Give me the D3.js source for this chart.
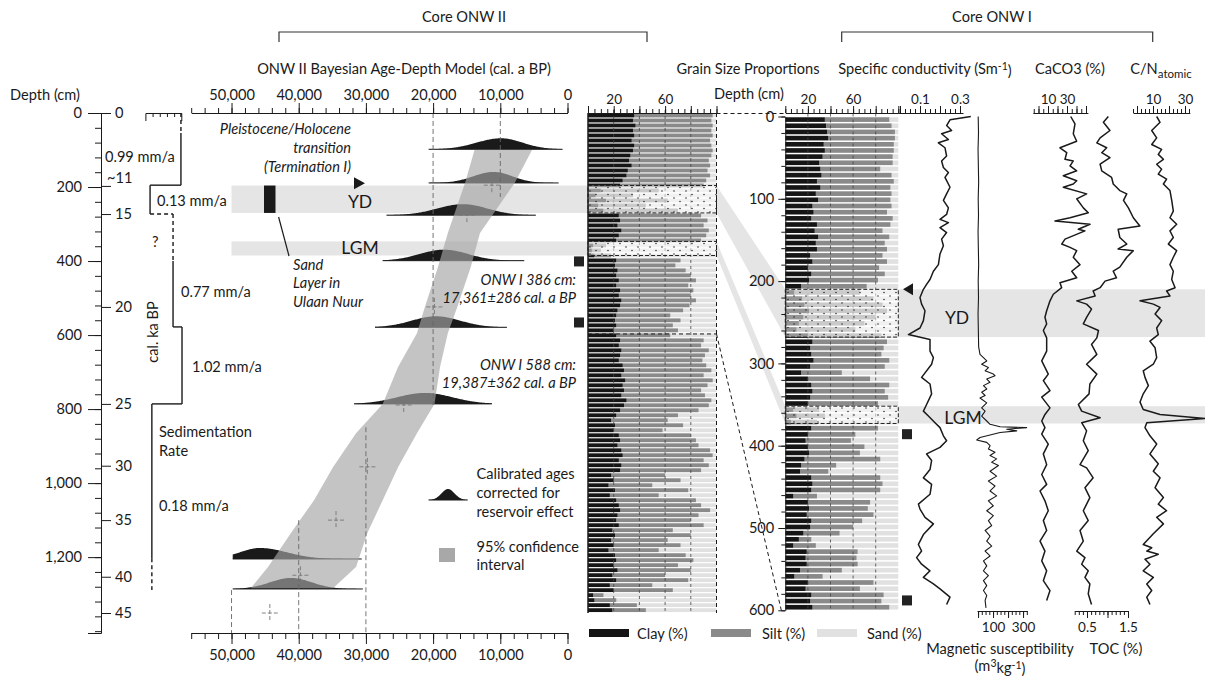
<!DOCTYPE html>
<html>
<head>
<meta charset="utf-8">
<title>ONW cores</title>
<script src="https://cdn.jsdelivr.net/npm/d3@7/dist/d3.min.js"></script>
<style>
  body{margin:0;background:#fff;}
  svg{display:block;font-family:Lato,"Open Sans",sans-serif;}
  .axis text{font-family:Lato,"Open Sans",sans-serif;fill:#1a1a1a;}
  .axis path,.axis line{stroke:#1a1a1a;}
</style>
</head>
<body>
<svg id="fig" width="1205" height="676"></svg>
<script>
// ---------- data ----------
const ageTicks=[0,10000,20000,30000,40000,50000];
const depthTicks=[0,200,400,600,800,1000,1200];
const kaLabels=['0','~11','15','20','25','30','35','40','45'];
const kaDepths=[0,197,273,524,786,953,1100,1253,1351];

const sedRates=[0.99,0.13,0.77,1.02,0.18];
const sedTop=[0,195,273,578,786];
const sedBase=[195,273,578,786,1289];
const sedSolidTop=[54,195,400,578,786];
const sedSolidBase=[195,273,578,786,1203];

// 95% confidence envelope of the age-depth model (ONW II)
const bandDepth=[100,189,324,416,524,595,686,786,865,957,1046,1135,1227,1284];
const bandOld=[13840,15250,17810,19270,21230,22400,25220,27500,31470,34900,37720,41150,44570,47140];
const bandYoung=[5280,7860,13020,14400,16400,17810,18970,19800,22400,25220,27500,29780,31470,34900];

// calibrated age distributions
const distDepth=[98,189,276,399,579,786,1205,1286];
const distMode=[9900,11000,15550,18380,19570,21230,45760,41160];
const distOld=[20670,20670,26930,27500,28650,31770,49820,49820];
const distYoung=[740,1320,4720,6430,9000,11260,30620,30460];
const distSdOld=[3600,3000,3800,3600,3600,4100,3000,3100];
const distSdYoung=[3200,2800,3600,3600,3600,4100,4000,3100];

// modelled ages (crosses)
const crossAges=[11260,14970,19800,24370,29780,34450,39750,44300];
const crossDepths=[195,276,524,789,956,1100,1249,1351];

// dashed age reference lines
const refAges=[10000,20000,30000,40000,50000];
const refFrom=[0,0,849,1100,1289];
const refTo=[227,789,1405,1405,1405];

// grain size, ONW II (one sample every 13.5 cm)
const onw2Clay=[36,35,37,35,36,34,36,35,33,32,34,31,30,27,25,10,6,14,8,12,
  24,25,23,26,24,22,4,3,5,22,21,23,22,24,22,25,24,26,25,23,
  22,21,22,20,22,25,24,26,25,24,27,28,26,29,27,28,26,30,28,25,
  22,18,21,20,24,25,23,26,27,24,26,25,18,20,16,21,17,22,24,25,
  23,22,24,19,21,18,20,16,21,22,20,23,19,22,17,20,4,5,17,19];
const onw2Silt=[61,61,60,61,61,61,60,62,63,62,61,62,65,65,65,45,29,48,37,58,
  64,68,67,68,68,66,10,7,13,50,47,53,58,60,56,57,56,58,54,51,
  42,51,44,50,42,65,64,68,66,65,65,68,64,68,66,60,65,66,66,61,
  48,44,53,38,56,59,63,69,70,66,68,63,42,52,34,57,38,62,64,70,
  63,58,66,47,59,44,52,39,55,60,50,57,41,56,33,46,8,17,21,26];
// grain size, ONW I (one sample every 7.5 cm)
const onw1Clay=[35,36,37,38,34,35,33,30,31,32,28,31,27,29,24,25,23,28,26,29,
  27,28,22,24,20,23,21,14,8,15,17,21,16,12,10,20,24,22,23,25,
  22,14,20,23,24,22,20,7,10,5,23,20,18,20,21,17,14,13,23,24,
  23,7,20,21,19,23,22,16,12,7,19,18,19,13,8,20,18,23,22,24];
const onw1Silt=[57,58,60,59,62,61,62,65,53,62,68,62,67,64,70,65,72,65,60,63,
  61,62,64,66,63,65,61,58,58,63,69,69,64,58,52,65,66,65,62,67,
  66,36,55,69,64,69,62,23,25,23,59,42,40,50,45,67,31,25,61,62,
  61,21,55,52,59,45,38,32,11,20,45,45,45,37,25,58,48,64,63,68];

// ONW I proxies: [depth cm, value]
const conductivity=[[0,0.354],[4,0.25],[11,0.233],[17,0.258],[21,0.208],[28,0.242],[32,0.192],[38,0.225],[48,0.233],[54,0.208],
  [62,0.217],[68,0.242],[74,0.225],[86,0.25],[94,0.233],[102,0.217],[111,0.242],[119,0.233],[125,0.2],[129,0.242],
  [135,0.2],[141,0.233],[149,0.208],[157,0.217],[167,0.2],[180,0.192],[188,0.167],[198,0.15],[204,0.133],[210,0.117],
  [220,0.1],[228,0.108],[236,0.125],[248,0.117],[257,0.1],[265,0.042],[271,0.15],[285,0.15],[293,0.167],[301,0.158],
  [317,0.108],[325,0.15],[337,0.158],[350,0.133],[358,0.117],[364,0.142],[372,0.175],[378,0.2],[388,0.217],[394,0.233],
  [402,0.2],[410,0.133],[418,0.158],[429,0.15],[439,0.117],[447,0.158],[459,0.15],[471,0.092],[477,0.1],[487,0.125],
  [495,0.167],[508,0.117],[520,0.092],[528,0.108],[536,0.083],[544,0.108],[552,0.15],[560,0.117],[568,0.167],[574,0.2],
  [584,0.25],[593,0.233]];
const magSus=[[0,1],[20,3],[40,0],[60,2],[80,4],[100,1],[120,3],[140,0],[160,2],[180,4],[200,1],[220,3],[240,0],[260,2],[280,4],
  [289,13],[293,36],[297,58],[301,24],[305,69],[309,47],[313,102],[315,113],[319,58],[323,80],[327,36],[331,58],[335,24],[339,47],
  [342,13],[348,58],[354,24],[358,47],[364,24],[370,58],[374,80],[377,147],[378,324],[380,191],[382,258],[384,147],[387,80],
  [390,13],[393,-9],[396,58],[400,80],[404,69],[408,113],[412,80],[416,124],[420,91],[424,136],[431,80],[437,124],[443,69],
  [449,113],[455,80],[461,124],[467,69],[473,102],[479,58],[485,102],[491,69],[497,91],[503,47],[510,80],[516,58],[522,91],
  [528,47],[534,80],[540,36],[546,58],[552,36],[558,69],[564,36],[570,58],[576,36],[582,58],[588,47],[597,53]];
const caco3=[[0,33.9],[9,38.4],[21,36.6],[30,40.2],[38,22.6],[44,29.7],[52,27.9],[54,36.6],[60,33.2],[66,40.2],
  [72,26.1],[78,40.2],[82,36.6],[86,26.1],[94,50.7],[100,40.2],[111,47.2],[117,52.4],[123,33.2],[127,17.4],
  [131,54.2],[137,41.9],[139,48.9],[149,27.9],[155,24.4],[159,33.2],[163,40.2],[171,36.6],[180,43.7],[188,35],
  [196,40.2],[202,22.6],[208,24.4],[216,15.6],[224,12.1],[236,8.6],[244,6.8],[252,8.6],[260,5.1],[269,8.6],
  [285,8.6],[297,3.4],[313,10.3],[321,5.1],[333,12.1],[341,3.4],[354,12.1],[362,6.8],[370,3.4],[378,6.8],
  [386,3.4],[398,10.3],[410,5.1],[423,8.6],[435,3.4],[447,8.6],[455,1.6],[467,6.8],[479,10.3],[491,5.1],
  [503,8.6],[516,1.6],[528,6.8],[540,3.4],[552,8.6],[564,5.1],[576,12.1],[588,8.6]];
const toc=[[0,1.02],[7,0.9],[17,1.06],[26,0.82],[32,0.74],[38,0.98],[44,0.86],[50,1.06],[58,0.82],[66,0.86],
  [74,1.1],[82,1.14],[90,1.3],[94,1.47],[102,1.39],[111,1.51],[123,1.63],[133,1.79],[137,1.26],[147,1.3],
  [155,1.47],[161,1.26],[163,1.63],[171,1.47],[183,1.3],[188,1.14],[196,1.22],[200,0.94],[208,0.82],[212,0.65],
  [218,0.7],[224,0.25],[228,0.49],[234,0.61],[244,0.49],[252,0.41],[260,0.78],[269,0.74],[277,0.61],[289,0.74],
  [301,0.49],[313,0.74],[325,0.57],[337,0.55],[350,0.29],[358,0.37],[366,0.82],[372,0.37],[382,0.49],[394,0.41],
  [406,0.53],[423,0.33],[427,0.49],[439,0.65],[451,0.45],[463,0.57],[479,0.41],[491,0.53],[503,0.33],[516,0.41],
  [528,0.25],[536,0.45],[544,0.37],[552,0.53],[560,0.45],[568,0.57],[580,0.53],[593,0.61]];
const cnRatio=[[0,12.3],[7,14.4],[17,9.2],[26,12.3],[34,9.2],[40,15.4],[46,13.3],[52,16.5],[58,12.3],[64,15.4],
  [70,13.3],[76,18.5],[82,16.5],[90,20.6],[102,21.7],[115,22.7],[123,20.6],[131,24.8],[139,20.6],[147,22.7],
  [155,19.6],[163,24.8],[171,22.7],[180,20.6],[188,22.7],[198,21.7],[208,23.8],[212,18.5],[218,20.6],[224,1.9],
  [228,10.2],[232,14.4],[240,11.3],[248,15.4],[257,12.3],[265,13.3],[273,8.1],[281,11.3],[293,12.3],[301,10.2],
  [309,3.9],[317,5],[327,7.1],[337,3.9],[347,1.9],[356,3.9],[362,14.4],[367,42.5],[372,6.1],[378,5],
  [388,8.1],[398,12.3],[410,8.1],[422,13.3],[431,10.2],[439,14.4],[451,11.3],[463,16.5],[471,13.3],[479,18.5],
  [487,12.3],[495,16.5],[507,10.2],[520,3.9],[524,9.2],[528,6.1],[532,13.3],[538,5],[544,8.1],[552,3.9],
  [560,10.2],[568,6.1],[576,9.2],[584,6.1],[593,8.1]];

// event intervals [top, base] in cm
const ydII=[196,270], lgmII=[347,385];
const ydI=[210,268], lgmI=[352,373];
const datedII=[401,566], datedI=[386,588];

// ---------- scales ----------
const svg=d3.select('#fig');
const INK='#1a1a1a', BANDC='#e5e5e5', FS=14.6, FSS=13.5;
const xAge=d3.scaleLinear().domain([0,56000]).range([567.5,191.2]);
const yII=d3.scaleLinear().domain([0,1405]).range([113,633]);
const yI=d3.scaleLinear().domain([0,600]).range([116.5,610.3]);
const xSed=d3.scaleLinear().domain([0,1]).range([145.4,181.3]);
const xG2=d3.scaleLinear().domain([0,100]).range([588,716.5]);
const xG1=d3.scaleLinear().domain([0,100]).range([785.3,898.3]);
const xCond=d3.scaleLinear().domain([-0.01,0.315]).range([898,963]);
const xMag=d3.scaleLinear().domain([-7,327]).range([977,1027.1]);
const xCa=d3.scaleLinear().domain([-6,52]).range([1032.8,1087.9]);
const xToc=d3.scaleLinear().domain([0.2,1.5]).range([1074.7,1128]);
const xCN=d3.scaleLinear().domain([-2.5,33]).range([1133,1189.8]);

function txt(x,y,s,o={}){
  return svg.append('text').attr('x',x).attr('y',y).attr('dy','0.35em')
    .attr('text-anchor',o.a||'start').attr('font-size',o.fs||FS)
    .attr('font-style',o.it?'italic':null).attr('fill',INK).text(s);
}
function comb(scale,y,orient,minor,major,labels,o={}){
  const mk=orient==='top'?d3.axisTop:d3.axisBottom;
  svg.append('g').attr('class','axis').attr('transform',`translate(0,${y})`)
    .call(mk(scale).tickValues(minor).tickSize(o.mn||4).tickSizeOuter(0).tickFormat(''));
  const b=svg.append('g').attr('class','axis').attr('transform',`translate(0,${y})`)
    .call(mk(scale).tickValues(major).tickSize(o.mj||8).tickSizeOuter(0).tickPadding(o.pad||2)
      .tickFormat(d=>labels.includes(d)?(o.fmt?o.fmt(d):d):''));
  b.select('.domain').remove();
  b.selectAll('text').attr('font-size',o.fs||FSS);
}

// ---------- light event bands & connectors ----------
const gBg=svg.append('g').attr('fill',BANDC);
[[ydII,ydI],[lgmII,lgmI]].forEach(([a,b])=>{
  gBg.append('rect').attr('x',xAge(50000)).attr('y',yII(a[0])).attr('width',xG2(0)-xAge(50000)).attr('height',yII(a[1])-yII(a[0]));
  gBg.append('path').attr('d',d3.line()([[xG2(100),yII(a[0])],[xG1(0),yI(b[0])],[xG1(0),yI(b[1])],[xG2(100),yII(a[1])]]));
  gBg.append('rect').attr('x',xG1(100)).attr('y',yI(b[0])).attr('width',1205-xG1(100)).attr('height',yI(b[1])-yI(b[0]));
});

// ---------- age-depth model ----------
const gDist=svg.append('g');
distDepth.forEach((dep,i)=>{
  const y0=yII(dep), lo=distYoung[i], hi=distOld[i];
  const ages=d3.range(lo,hi,(hi-lo)/150).concat([hi]);
  const h=a=>{const s=a>distMode[i]?distSdOld[i]:distSdYoung[i];return 11*Math.exp(-0.5*((a-distMode[i])/s)**2);};
  gDist.append('path').datum(ages).attr('fill',INK)
    .attr('d',d3.area().x(a=>xAge(a)).y0(y0).y1(a=>y0-h(a)));
  gDist.append('line').attr('x1',xAge(lo)).attr('x2',xAge(hi)).attr('y1',y0).attr('y2',y0).attr('stroke',INK).attr('stroke-width',1);
});
const bandPts=bandDepth.map((d,i)=>[xAge(bandOld[i]),yII(d)])
  .concat(bandDepth.map((d,i)=>[xAge(bandYoung[i]),yII(d)]).reverse());
svg.append('path').attr('d',d3.line()(bandPts)+'Z').attr('fill','#a6a6a6').attr('opacity',0.66);

refAges.forEach((a,i)=>{
  svg.append('line').attr('x1',xAge(a)).attr('x2',xAge(a)).attr('y1',yII(refFrom[i])).attr('y2',yII(refTo[i]))
    .attr('stroke','#666').attr('stroke-width',0.9).attr('stroke-dasharray','5,3');
});
crossAges.forEach((a,i)=>{
  const cx=xAge(a), cy=yII(crossDepths[i]);
  const g=svg.append('g').attr('stroke','#777').attr('stroke-width',0.9).attr('stroke-dasharray','4,2');
  g.append('line').attr('x1',cx-8).attr('x2',cx+8).attr('y1',cy).attr('y2',cy);
  g.append('line').attr('x1',cx).attr('x2',cx).attr('y1',cy-9).attr('y2',cy+9);
});

// age axes
const ageMinor=d3.range(0,56001,2000);
comb(xAge,113,'top',ageMinor,ageTicks,ageTicks,{mn:5,mj:10,pad:3,fs:FS,fmt:d3.format(',')});
comb(xAge,633,'bottom',ageMinor,ageTicks,ageTicks,{mn:6,mj:11,pad:6,fs:FS,fmt:d3.format(',')});

// depth axis ONW II + cal ka
const gD=svg.append('g').attr('class','axis').attr('transform','translate(101,0)');
gD.call(d3.axisLeft(yII).tickValues(d3.range(0,1401,40)).tickSize(6).tickSizeOuter(13).tickFormat(''));
const gD2=svg.append('g').attr('class','axis').attr('transform','translate(101,0)')
  .call(d3.axisLeft(yII).tickValues(depthTicks).tickSize(13).tickPadding(6).tickFormat(d3.format(',')));
gD2.select('.domain').remove(); gD2.selectAll('text').attr('font-size',FS);
const gK=svg.append('g').attr('class','axis').attr('transform','translate(101,0)')
  .call(d3.axisRight(yII).tickValues(kaDepths).tickSize(10).tickPadding(4).tickFormat((d,i)=>kaLabels[i]));
gK.select('.domain').remove(); gK.selectAll('text').attr('font-size',FS);
gK.selectAll('.tick').filter(d=>d===kaDepths[1]).select('text').attr('x',6).attr('dy','-0.25em');

// sedimentation rate steps
const gS=svg.append('g').attr('stroke',INK).attr('stroke-width',1.4).attr('fill','none');
svg.append('g').attr('class','axis').attr('transform','translate(0,113)')
  .call(d3.axisBottom(xSed).tickValues([0.2,0.4,0.6,0.8]).tickSize(4).tickSizeOuter(8).tickFormat(''));
sedRates.forEach((r,i)=>{
  const x=xSed(r);
  if(sedSolidTop[i]>sedTop[i]) gS.append('line').attr('x1',x).attr('x2',x).attr('y1',yII(sedTop[i])).attr('y2',yII(sedSolidTop[i])).attr('stroke-dasharray','4,3');
  gS.append('line').attr('x1',x).attr('x2',x).attr('y1',yII(sedSolidTop[i])).attr('y2',yII(sedSolidBase[i]));
  if(sedSolidBase[i]<sedBase[i]) gS.append('line').attr('x1',x).attr('x2',x).attr('y1',yII(sedSolidBase[i])).attr('y2',yII(sedBase[i])).attr('stroke-dasharray','4,3');
  if(i<sedRates.length-1){
    const dashed=sedSolidTop[i+1]>sedTop[i+1];
    gS.append('line').attr('x1',x).attr('x2',xSed(sedRates[i+1])).attr('y1',yII(sedBase[i])).attr('y2',yII(sedBase[i]))
      .attr('stroke-dasharray',dashed?'4,3':null);
  }
});

// ---------- grain size panels ----------
function grain(clay,silt,step,yS,xS,bh){
  const g=svg.append('g');
  const rows=clay.map((c,i)=>({c,s:silt[i],y:yS(i*step+step/2)-bh/2}));
  g.selectAll('.sa').data(rows).join('rect').attr('x',xS(0)).attr('y',d=>d.y).attr('width',xS(100)-xS(0)).attr('height',bh).attr('fill','#e1e1e1');
  g.selectAll('.si').data(rows).join('rect').attr('x',d=>xS(d.c)).attr('y',d=>d.y).attr('width',d=>xS(d.c+d.s)-xS(d.c)).attr('height',bh).attr('fill','#8a8a8a');
  g.selectAll('.cl').data(rows).join('rect').attr('x',xS(0)).attr('y',d=>d.y).attr('width',d=>xS(d.c)-xS(0)).attr('height',bh).attr('fill','#151515');
  [20,40,60,80].forEach(v=>g.append('line').attr('x1',xS(v)).attr('x2',xS(v)).attr('y1',yS.range()[0]-3).attr('y2',yS.range()[0]+(yS===yII?500:495))
    .attr('stroke','#444').attr('stroke-width',0.8).attr('stroke-dasharray','3,3'));
}
grain(onw2Clay,onw2Silt,13.5,yII,xG2,3.8);
grain(onw1Clay,onw1Silt,7.5,yI,xG1,4.6);

const defs=svg.append('defs');
const pat=defs.append('pattern').attr('id','dots').attr('patternUnits','userSpaceOnUse').attr('width',12).attr('height',7);
pat.append('circle').attr('cx',2).attr('cy',2).attr('r',0.75).attr('fill','#222');
pat.append('circle').attr('cx',8).attr('cy',5.5).attr('r',0.75).attr('fill','#222');
function sandBox(xS,yS,iv){
  const x=xS(0),w=xS(100)-xS(0),y=yS(iv[0]),h=yS(iv[1])-yS(iv[0]);
  svg.append('rect').attr('x',x).attr('y',y).attr('width',w).attr('height',h).attr('fill','#fff').attr('opacity',0.55);
  svg.append('rect').attr('x',x).attr('y',y).attr('width',w).attr('height',h).attr('fill','url(#dots)');
  svg.append('rect').attr('x',x).attr('y',y).attr('width',w).attr('height',h).attr('fill','none').attr('stroke','#222').attr('stroke-width',1).attr('stroke-dasharray','4,2');
}
sandBox(xG2,yII,ydII); sandBox(xG2,yII,lgmII); sandBox(xG1,yI,ydI); sandBox(xG1,yI,lgmI);

// panel frames and correlation lines
svg.append('line').attr('x1',xG2(0)).attr('x2',xG2(0)).attr('y1',113).attr('y2',613).attr('stroke',INK).attr('stroke-width',1.5);
const gC=svg.append('g').attr('stroke',INK).attr('stroke-width',1).attr('stroke-dasharray','4,3').attr('fill','none');
gC.append('line').attr('x1',xG2(100)).attr('x2',xG2(100)).attr('y1',113).attr('y2',613);
gC.append('line').attr('x1',xG2(100)).attr('x2',xG1(0)).attr('y1',113.5).attr('y2',113.5);
gC.append('line').attr('x1',xG2(0)).attr('x2',xG2(100)).attr('y1',yII(597)).attr('y2',yII(597));
gC.append('line').attr('x1',xG2(100)).attr('x2',xG1(0)-4).attr('y1',yII(597)).attr('y2',yI(600));

// grain axes
comb(xG2,113,'top',d3.range(0,101,5),[0,20,40,60,80,100],[20,60],{mn:4,mj:7});
comb(xG1,113,'top',d3.range(0,101,5),[0,20,40,60,80,100],[20,60],{mn:4,mj:7});
comb(xCond,113,'top',d3.range(0,0.301,0.025),[0,0.1,0.2,0.3],[0.1,0.3],{mn:4,mj:7});
const gI=svg.append('g').attr('class','axis').attr('transform',`translate(${xG1(0)},0)`)
  .call(d3.axisLeft(yI).tickValues(d3.range(0,601,20)).tickSize(4).tickSizeOuter(0).tickFormat(''));
const gI2=svg.append('g').attr('class','axis').attr('transform',`translate(${xG1(0)},0)`)
  .call(d3.axisLeft(yI).tickValues([0,100,200,300,400,500,600]).tickSize(7).tickPadding(4));
gI2.select('.domain').remove(); gI2.selectAll('text').attr('font-size',FS);

// ---------- ONW I proxy curves ----------
function profile(data,xs,w){
  svg.append('path').datum(data).attr('fill','none').attr('stroke',INK).attr('stroke-width',w).attr('stroke-linejoin','round')
    .attr('d',d3.line().x(p=>xs(p[1])).y(p=>yI(p[0])));
}
profile(conductivity,xCond,1.5);
profile(magSus,xMag,1.1);
profile(caco3,xCa,1.5);
profile(toc,xToc,1.5);
profile(cnRatio,xCN,1.5);
comb(xCa,113,'top',d3.range(-5,51,5),[0,10,20,30,40,50],[10,30],{mn:4,mj:7});
comb(xCN,113,'top',d3.range(-2.5,33,2.5),[0,10,20,30],[10,30],{mn:4,mj:7});
comb(xMag,611,'bottom',d3.range(0,326,25),[0,100,200,300],[100,300],{mn:4,mj:7,pad:4});
comb(xToc,611,'bottom',d3.range(0.2,1.51,0.1),[0.5,1,1.5],[0.5,1.5],{mn:4,mj:7,pad:4});

// markers
datedII.forEach(d=>svg.append('rect').attr('x',574).attr('y',yII(d)-5).attr('width',10).attr('height',10).attr('fill','#222'));
datedI.forEach(d=>svg.append('rect').attr('x',902).attr('y',yI(d)-5).attr('width',10).attr('height',10).attr('fill','#222'));
svg.append('path').attr('d',`M354,${yII(190)-6}L365,${yII(190)}L354,${yII(190)+6}Z`).attr('fill',INK);
svg.append('path').attr('d',`M903,${yI(ydI[0])}L913,${yI(ydI[0])-6}L913,${yI(ydI[0])+6}Z`).attr('fill',INK);
svg.append('rect').attr('x',264).attr('y',yII(ydII[0])).attr('width',11.5).attr('height',yII(ydII[1])-yII(ydII[0])).attr('fill',INK);
svg.append('line').attr('x1',278.6).attr('y1',217).attr('x2',289).attr('y2',256).attr('stroke',INK).attr('stroke-width',1.2);

// ---------- headers ----------
const gH=svg.append('g').attr('stroke','#333').attr('stroke-width',1.2).attr('fill','none');
gH.append('path').attr('d','M279,42V32H647V42');
gH.append('path').attr('d','M841.7,42V32H1152.7V42');
txt(464,17,'Core ONW II',{a:'middle'});
txt(992,17,'Core ONW I',{a:'middle'});
txt(404,69,'ONW II Bayesian Age-Depth Model (cal. a BP)',{a:'middle'});
txt(45,95,'Depth (cm)',{a:'middle'});
txt(748,69,'Grain Size Proportions',{a:'middle'});
txt(749,94,'Depth (cm)',{a:'middle'});
const sc=txt(925,69,'Specific conductivity (Sm',{a:'middle'});
sc.append('tspan').attr('dy','-0.4em').attr('font-size',10.5).text('-1');
sc.append('tspan').attr('dy','0.4em').text(')');
txt(1070,69,'CaCO3 (%)',{a:'middle'});
const cn=txt(1161,69,'C/N',{a:'middle'});
cn.append('tspan').attr('dy','0.3em').attr('font-size',11.5).text('atomic');

// sedimentation annotations
txt(105,157,'0.99 mm/a');
txt(157,201,'0.13 mm/a');
txt(152,242,'?');
txt(181,292,'0.77 mm/a');
svg.append('text').attr('transform','translate(153,332) rotate(-90)').attr('dy','0.35em').attr('text-anchor','middle')
  .attr('font-size',FS).attr('fill',INK).text('cal. ka BP');
txt(192,367,'1.02 mm/a');
txt(159,432,'Sedimentation');
txt(159,451,'Rate');
txt(159,506,'0.18 mm/a');

// model annotations
txt(351,129,'Pleistocene/Holocene',{a:'end',it:true});
txt(351,148,'transition',{a:'end',it:true});
txt(351,167,'(Termination I)',{a:'end',it:true});
txt(360,202,'YD',{a:'middle',fs:17.5});
txt(360,248,'LGM',{a:'middle',fs:17.5});
txt(293,265,'Sand',{it:true});
txt(293,283,'Layer in',{it:true});
txt(293,302,'Ulaan Nuur',{it:true});
txt(576,280,'ONW I 386 cm:',{a:'end',it:true});
txt(576,298,'17,361±286 cal. a BP',{a:'end',it:true});
txt(576,365,'ONW I 588 cm:',{a:'end',it:true});
txt(576,383,'19,387±362 cal. a BP',{a:'end',it:true});

// legend
const legBell=d3.range(428.6,467.8,0.5);
svg.append('path').datum(legBell).attr('fill',INK)
  .attr('d',d3.area().x(x=>x).y0(500).y1(x=>500-11*Math.exp(-0.5*((x-448)/6.5)**2)));
svg.append('line').attr('x1',428.6).attr('x2',467.7).attr('y1',500).attr('y2',500).attr('stroke',INK);
txt(476.5,474,'Calibrated ages');
txt(476.5,493,'corrected for');
txt(476.5,512,'reservoir effect');
svg.append('rect').attr('x',439).attr('y',548).attr('width',16).attr('height',14).attr('fill','#a8a8a8');
txt(476.5,547,'95% confidence');
txt(476.5,565,'interval');

svg.append('rect').attr('x',589).attr('y',629).attr('width',40).attr('height',8).attr('fill','#151515');
txt(637,634,'Clay (%)');
svg.append('rect').attr('x',711).attr('y',629).attr('width',40).attr('height',8).attr('fill','#8a8a8a');
txt(762,634,'Silt (%)');
svg.append('rect').attr('x',817).attr('y',629).attr('width',40).attr('height',8).attr('fill','#e1e1e1');
txt(867,634,'Sand (%)');

txt(957,318,'YD',{a:'middle',fs:17.5});
txt(963,418,'LGM',{a:'middle',fs:17.5});
txt(1000,649,'Magnetic susceptibility',{a:'middle'});
const ms=txt(1000,666,'(m',{a:'middle'});
ms.append('tspan').attr('dy','-0.4em').attr('font-size',10.5).text('3');
ms.append('tspan').attr('dy','0.4em').text('kg');
ms.append('tspan').attr('dy','-0.4em').attr('font-size',10.5).text('-1');
ms.append('tspan').attr('dy','0.4em').text(')');
txt(1116,649,'TOC (%)',{a:'middle'});
</script>
</body>
</html>
